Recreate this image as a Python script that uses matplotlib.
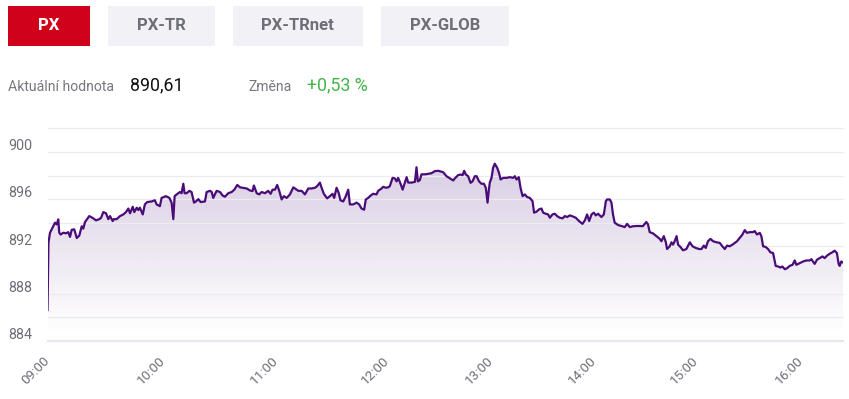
import numpy as np
import matplotlib
matplotlib.use("Agg")
import matplotlib.pyplot as plt
from matplotlib.patches import Rectangle
from matplotlib.transforms import ScaledTranslation, blended_transform_factory

plt.rcParams['font.family'] = ['Roboto', 'DejaVu Sans']

# ---------------- data ----------------
tabs = ["PX", "PX-TR", "PX-TRnet", "PX-GLOB"]
active_tab = "PX"
current_label = "Aktuální hodnota"
current_value = "890,61"
change_label = "Změna"
change_value = "+0,53 %"

# minutes since 09:00
minutes = [0, 0.5, 1.3, 2.7, 3.9, 4.8, 5.6, 6.1, 6.8, 8.2, 9.6, 10.8, 11.7, 12.6, 13.9,
           15.2, 16.5, 17.8, 18.6, 19.5, 21.7, 23.5, 25.2, 26.9, 27.8, 29.0, 30.4, 31.6,
           32.5, 33.9, 34.5, 35.9, 37.7, 39.4, 40.8, 42.0, 42.9, 44.3, 45.1, 46.4, 47.2,
           48.0, 49.5, 50.6, 51.8, 54.1, 55.8, 56.7, 58.4, 59.3, 61.6, 63.4, 64.6, 65.5,
           66.2, 67.3, 69.0, 69.9, 70.8, 71.5, 72.6, 74.0, 75.2, 76.5, 77.5, 78.8, 80.0,
           82.3, 83.2, 85.0, 85.9, 86.7, 88.5, 90.3, 91.7, 92.9, 94.7, 96.5, 97.9, 99.5,
           100.9, 102.7, 104.5,
           106.2, 107.6, 108.3, 109.8, 111.1, 112.4, 114.2, 115.9, 117.2, 118.2, 119.5,
           120.7, 121.8, 123.1, 124.3, 125.8, 127.6, 129.4, 130.3, 132.1, 133.9, 135.7,
           137.5, 139.3, 141.1, 142.3, 143.8, 144.7, 145.9, 147.7, 149.2, 150.6, 151.5,
           152.8, 154.0, 154.9, 156.4, 157.8, 159.1, 160.0, 161.8, 163.6, 165.0, 166.3,
           167.7, 168.6, 169.9, 171.2, 172.6, 174.4, 175.3, 177.1, 178.0, 179.5, 180.8,
           181.7, 183.3, 184.6, 185.6, 186.5, 187.9, 189.1, 190.4, 191.4, 192.3, 194.3,
           196.2, 197.1, 197.9, 199.0, 200.0, 201.9, 203.8, 205.8, 207.7, 209.6,
           212.5, 214.4, 216.4, 218.3, 219.2, 221.1, 222.5, 223.7, 224.6, 225.6, 226.9,
           228.3, 229.4, 230.8, 231.8, 233.2, 234.6, 236.0, 237.1, 238.1, 238.8, 239.4,
           240.4, 241.3, 242.3, 243.7, 244.8, 245.7, 247.2, 249.1, 251.1, 253.0, 254.0,
           255.0, 256.3, 257.3, 258.5, 259.8, 261.2, 262.7, 264.3, 265.2, 266.6, 268.1,
           269.5, 270.5, 272.0, 273.4, 274.4, 275.9, 277.3, 278.6, 280.2, 281.8, 283.1,
           284.5, 286.0, 287.6, 289.5, 291.4, 293.4, 294.8, 296.1, 297.3, 298.7, 300.0,
           301.2, 302.5, 304.5, 305.9, 307.1, 307.8, 309.4, 310.4, 311.3, 312.3, 314.3,
           316.3, 318.2, 319.6, 321.2, 323.1, 325.1, 327.0,
           328.9, 330.9, 331.9, 332.9, 334.9, 336.9, 338.8, 339.8, 341.2, 342.4, 343.1,
           344.7, 345.7, 346.6, 347.6, 348.7, 349.6, 351.0, 352.5, 354.5, 356.5, 358.1,
           360.0, 361.9, 363.3, 364.6, 365.7, 367.0, 368.4, 369.9, 371.8, 373.7, 375.2,
           376.6, 377.9, 379.4, 381.0, 382.3, 383.6, 385.1, 386.7, 388.0, 389.3, 390.9,
           392.8, 393.7, 395.0, 396.6, 397.5, 398.5, 400.0, 401.3, 402.7, 404.2, 405.7,
           407.0, 408.4, 409.5, 410.9, 412.2, 413.7, 415.3, 416.6, 417.5, 419.4, 421.3,
           423.3, 425.1, 426.1, 427.0, 428.0, 429.3, 430.9, 432.4, 433.7, 435.0, 436.6,
           438.1, 439.4, 440.7, 441.7, 442.3, 443.2, 444.2]

values = [886.6, 892.3, 893.15, 893.6, 894.0, 893.86, 894.28, 893.15, 893.0, 893.15, 893.1,
          893.2, 892.8, 893.4, 893.44, 892.7, 892.9, 893.7, 893.5, 894.06, 894.56, 894.4,
          894.2, 894.3, 894.4, 894.9, 894.8, 894.3, 894.56, 894.14, 894.3, 894.3, 894.56,
          894.7, 894.9, 895.2, 894.8, 895.35, 894.9, 895.27, 895.07, 895.27, 894.7, 895.55,
          895.75, 895.8, 895.9, 895.55, 895.4, 896.1, 896.25, 896.1, 895.7, 894.3, 896.25,
          896.4, 896.6, 896.5, 897.3, 896.5, 896.5, 896.7, 896.6, 895.7, 895.8, 896.0,
          895.75, 895.8, 896.6, 896.7, 896.6, 896.1, 896.7, 896.6, 896.3, 896.2, 896.5,
          896.6, 896.8, 897.2, 897.0, 896.95, 896.9,
          896.73, 896.68, 897.15, 896.5, 896.4, 896.6, 896.5, 896.7, 896.45, 896.8, 896.8,
          897.2, 896.7, 895.97, 896.25, 896.1, 896.4, 897.0, 896.9, 896.7, 896.7, 896.4,
          896.9, 896.9, 896.96, 897.1, 897.4, 896.96, 896.45, 896.06, 896.25, 896.45, 896.1,
          896.96, 896.5, 895.9, 895.8, 896.25, 896.8, 895.55, 895.55, 895.7, 895.55, 895.2,
          895.1, 895.97, 896.1, 896.3, 896.45, 896.4, 896.7, 896.9, 897.04, 896.96, 897.0,
          897.1, 897.8, 897.75, 897.5, 897.8, 897.3, 896.8, 897.4, 897.86, 897.4, 897.4,
          897.46, 898.7, 897.5, 897.6, 898.1, 898.1, 898.14, 898.2, 898.37, 898.4,
          898.28, 897.94, 897.75, 897.58, 897.75, 898.03, 898.08, 898.03, 898.4, 898.08, 897.94,
          897.38, 897.5, 897.94, 897.94, 897.5, 897.3, 897.3, 896.96, 895.7, 896.7, 897.4,
          897.8, 898.65, 899.0, 898.65, 898.2, 897.66, 897.8, 897.8, 897.86, 897.8, 897.94,
          897.66, 897.86, 896.96, 896.25, 896.4, 896.17, 896.1, 895.83, 894.85, 894.93, 895.13,
          895.2, 894.85, 894.76, 894.7, 894.42, 894.7, 894.76, 894.56, 894.42, 894.37, 894.56,
          894.48, 894.62, 894.54, 894.42, 894.14, 893.9, 894.2, 894.7, 894.14, 894.7, 894.85,
          894.62, 894.76, 894.48, 894.7, 895.83, 895.97, 895.97, 895.7, 894.7, 894.0, 893.8,
          893.72, 893.63, 893.9, 893.63, 893.7, 893.72, 893.72,
          893.71, 894.06, 893.86, 893.2, 893.09, 892.86, 892.63, 892.43, 892.86, 892.34, 891.77,
          892.0, 892.34, 892.14, 892.43, 892.86, 892.14, 891.94, 891.66, 891.77, 892.34, 892.0,
          891.86, 891.77, 891.77, 892.06, 891.86, 892.43, 892.63, 892.43, 892.34, 892.29, 892.0,
          891.77, 892.06, 892.0, 892.14, 892.29, 892.43, 892.71, 893.0, 893.37, 893.14, 893.2,
          893.2, 893.29, 893.0, 893.14, 892.86, 892.0, 891.94, 891.77, 891.49, 891.43, 890.34,
          890.29, 890.2, 890.29, 890.06, 890.14, 890.34, 890.43, 890.8, 890.43, 890.57, 890.71,
          890.8, 890.8, 890.91, 890.71, 890.51, 890.86, 891.0, 891.14, 891.0, 891.2, 891.37,
          891.49, 891.63, 891.43, 890.51, 890.34, 890.71, 890.63]

hour_labels = ["09:00", "10:00", "11:00", "12:00", "13:00", "14:00", "15:00", "16:00"]
hour_minutes = [0, 60, 120, 180, 240, 300, 360, 420]
y_labels = [884, 888, 892, 896, 900]

# ---------------- layout / style ----------------
W, H = 849, 399
fig = plt.figure(figsize=(W / 100, H / 100), dpi=100)
fig.patch.set_facecolor("white")

def fx(x):
    return x / W

def fy(y):
    return 1 - y / H

# ordinal-like time axis (hours are not equally spaced, as in the source widget)
knot_min = np.array([0, 60, 120, 180, 240, 300, 360, 420, 444.2])
knot_pos = np.array([0, 115.5, 228.5, 339.5, 443.5, 546.5, 648.5, 753.5, 795.8])

def _interp(v, xs, ys):
    v = np.asarray(v, dtype=float)
    out = np.interp(v, xs, ys)
    s0 = (ys[1] - ys[0]) / (xs[1] - xs[0])
    s1 = (ys[-1] - ys[-2]) / (xs[-1] - xs[-2])
    out = np.where(v < xs[0], ys[0] + (v - xs[0]) * s0, out)
    out = np.where(v > xs[-1], ys[-1] + (v - xs[-1]) * s1, out)
    return out

def fwd(v):
    return _interp(v, knot_min, knot_pos)

def inv(v):
    return _interp(v, knot_pos, knot_min)

ax_left, ax_right, ax_top, ax_bottom = 47.5, 843.0, 128.3, 340.7
ax = fig.add_axes([fx(ax_left), fy(ax_bottom), fx(ax_right - ax_left), (ax_bottom - ax_top) / H])
ax.set_xscale('function', functions=(fwd, inv))
ymin, ymax = 884, 902
ax.set_xlim(minutes[0], minutes[-1])
ax.set_ylim(ymin, ymax)
for s in ax.spines.values():
    s.set_visible(False)
ax.set_facecolor("none")

# gridlines
for g in np.arange(ymin, ymax + 0.1, 2):
    ax.axhline(g, color="#ebebf0", lw=0.9, zorder=1.5, clip_on=False)
ax.axhline(ymin, color="#e6e6f0", lw=1.6, zorder=1.6, clip_on=False)

# gradient area fill
x = np.array(minutes)
y = np.array(values)
poly = ax.fill_between(x, y, ymin, facecolor="none", edgecolor="none", zorder=1)
gy = np.linspace(ymax, ymin, 256)
alpha = np.clip(0.0195 * (gy - 884.6), 0, 1)
img = np.zeros((256, 1, 4))
img[..., 0] = 120 / 255
img[..., 1] = 80 / 255
img[..., 2] = 160 / 255
img[:, 0, 3] = alpha
im = ax.imshow(img, extent=[minutes[0], minutes[-1], ymin, ymax], aspect="auto",
               interpolation="bilinear", zorder=1, origin="upper")
im.set_clip_path(poly.get_paths()[0], transform=ax.transData)

ax.plot(x, y, color="#4a0d78", lw=1.6, solid_joinstyle="round", zorder=3)

# ticks
ax.set_yticks([])
ax.set_xticks(hour_minutes)
ax.set_xticklabels(hour_labels, rotation=45, ha="right", va="center",
                   rotation_mode="anchor", color="#6e6e78", fontsize=9.7)
ax.tick_params(axis="x", length=0, pad=13.2)
ax.minorticks_off()

ytrans = blended_transform_factory(ax.transAxes, ax.transData) + \
    ScaledTranslation(-39.5 / 100, 1.8 / 100, fig.dpi_scale_trans)
for v in y_labels:
    ax.text(0, v, str(v), transform=ytrans, ha="left", va="baseline",
            color="#6e6e78", fontsize=10.3)

# ---------------- header ----------------
tab_boxes = [(8, 90), (107.7, 215), (232.7, 362.7), (381, 509)]
tab_top, tab_bot = 6, 45.7
for name, (x0, x1) in zip(tabs, tab_boxes):
    active = name == active_tab
    fig.patches.append(Rectangle((fx(x0), fy(tab_bot)), fx(x1 - x0), (tab_bot - tab_top) / H,
                                 transform=fig.transFigure,
                                 facecolor="#d0021b" if active else "#f2f2f6",
                                 edgecolor="none"))
    fig.text(fx((x0 + x1) / 2), fy((tab_top + tab_bot) / 2), name,
             ha="center", va="center", fontsize=12, fontweight="bold",
             color="white" if active else "#6e6e78")

base_y = fy(90.7)
fig.text(fx(8), base_y, current_label, ha="left", va="baseline", fontsize=10.1, color="#777780")
fig.text(fx(130), base_y, current_value, ha="left", va="baseline", fontsize=12.8, color="#111111")
fig.text(fx(248), base_y, change_label, ha="left", va="baseline", fontsize=10.1, color="#777780")
fig.text(fx(307), base_y, change_value, ha="left", va="baseline", fontsize=12.8, color="#45b549")

fig.savefig("out.png", dpi=100, facecolor="white")
